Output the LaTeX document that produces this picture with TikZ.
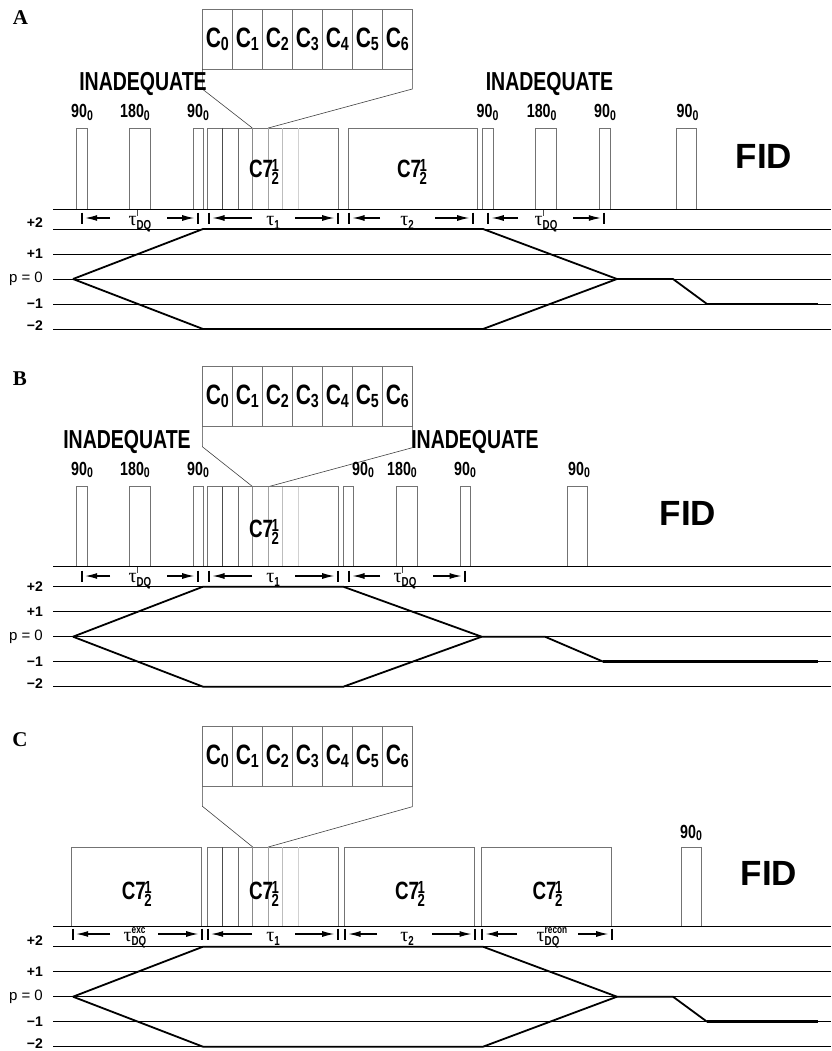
\documentclass[tikz,border=0pt]{standalone}
\usepackage{fontspec}
\setmainfont{Liberation Sans}
\newfontfamily\hv[FakeStretch=0.75]{Liberation Sans}
\newfontfamily\hvw{Liberation Sans}
\newfontfamily\tms{Liberation Serif}
\usetikzlibrary{arrows.meta}

\newcommand\fs[1]{\fontsize{#1}{#1}\selectfont}
\newcommand\Csub[1]{C\raisebox{-3pt}{\fs{19}#1}}
\newcommand\pang[2]{#1\raisebox{-2.5pt}{\fs{14}#2}}
\newcommand\Cseven{C7\kern-1.5pt\rlap{\raisebox{6pt}{\fs{17.5}1}}\raisebox{-7pt}{\fs{17.5}2}}
\newcommand\tsym{{\tms\mdseries\fs{20}τ}}
\newcommand\tone[1]{\tsym\raisebox{-4pt}{\hv\bfseries\fs{13}#1}}
\newcommand\tdqI{\tsym\rlap{\raisebox{9pt}{\hv\mdseries\fs{10}I}}\raisebox{-4pt}{\hv\bfseries\fs{13}DQ}}
\newcommand\tdqS[1]{\tsym\rlap{\raisebox{8pt}{\hv\bfseries\fs{11}#1}}\raisebox{-4.5pt}{\hv\bfseries\fs{13}DQ}}

\newcommand\pulse[5]{\node[pulse, minimum width={#3-#2}, minimum height={#5-#4}] (#1) at ({(#2+#3)/2},{(#4+#5)/2}) {};}
\newcommand\subdiv[2]{\foreach \xx/\g in {222.3/70,238.3/58,252.3/46,268.3/36,282.7/26,298.3/18} \draw[draw=black!\g, line width=0.8pt] (\xx,#1) -- (\xx,#2);}
\newcommand\interval[9]{%
 \node[tlab] (#1) at (#7,#8) {#9};
 \coordinate (#1-L) at ({#2+3.5},#6);
 \coordinate (#1-R) at ({#5-3.5},#6);
 \coordinate (#1-tl) at (#3,#6);
 \coordinate (#1-tr) at (#4,#6);
 \draw[tarr] (#1-tl) -- (#1-L);
 \draw[tarr] (#1-tr) -- (#1-R);
 \draw[tbar] (#2,{#6-5.5}) -- (#2,{#6+5.5});
 \draw[tbar] (#5,{#6-5.5}) -- (#5,{#6+5.5});
}
\newcommand\levels[3]{%
 \foreach \k in {0,...,4} \draw[lvl] (53,{#2+25*\k}) -- (831,{#2+25*\k});
 \node[llab] (#1-l2) at (43,{#2+#3}) {+2};
 \node[llab] (#1-l1) at (43,{#2+25}) {+1};
 \node[llab,font=\hvw\mdseries\fs{15}] (#1-l0) at (43,{#2+50}) {p = 0};
 \node[llab] (#1-lm1) at (43,{#2+75}) {−1};
 \node[llab] (#1-lm2) at (43,{#2+97}) {−2};
}
\newcommand\cbox[2]{% name, center y
 \foreach \i in {0,...,6} \node[cell] (#1-c\i) at ({217.3+30*\i},#2) {\Csub{\i}};
}

\begin{document}
\begin{tikzpicture}[x=1pt,y=-1pt,
 pulse/.style={draw=black!55, line width=0.8pt, inner sep=0pt, outer sep=0pt},
 cell/.style={draw=black!55, line width=0.9pt, minimum width=30pt, minimum height=60pt, inner sep=0pt, outer sep=0pt, font=\hv\bfseries\fs{28}},
 lvl/.style={line width=0.9pt},
 coh/.style={line width=1.8pt, line join=round},
 cohend/.style={line width=2.8pt},
 tarr/.style={-{Latex[length=12pt,width=6pt]}, line width=1.1pt},
 tbar/.style={line width=1.8pt},
 cone/.style={draw=black!75, line width=0.6pt},
 plab/.style={anchor=base, inner sep=0pt, font=\hv\bfseries\fs{19}},
 inad/.style={inner sep=0pt, font=\hv\bfseries\fs{26}},
 fid/.style={inner sep=0pt, font=\hvw\bfseries\fs{35}},
 c7lab/.style={anchor=base, inner sep=0pt, font=\hv\bfseries\fs{25}},
 tlab/.style={anchor=base, inner sep=0pt},
 llab/.style={anchor=east, inner sep=0pt, font=\hvw\bfseries\fs{14}},
 panel/.style={inner sep=0pt, font=\tms\bfseries\fs{21}}
]
\useasboundingbox (0,0) rectangle (831,1051);

% ================= Panel A =================
\node[panel] (A-lab) at (20.5,18) {A};
\cbox{A}{39}
\coordinate (A-kl) at (252.3,128);
\coordinate (A-kr) at (268.3,128);
\draw[cone] (A-c0.south west) -- ++(0,20) -- (A-kl);
\draw[cone] (A-c6.south east) -- ++(0,20) -- (A-kr);

\pulse{A-p1}{76.3}{87.3}{128}{209}
\pulse{A-p2}{129.3}{150.3}{128}{209}
\pulse{A-p3}{193.7}{203.7}{128}{209}
\pulse{A-blk}{207.7}{338.3}{128}{209}
\subdiv{128}{209}
\pulse{A-b2}{348.3}{477.7}{128}{209}
\pulse{A-p4}{482.3}{493.3}{128}{209}
\pulse{A-p5}{535.3}{556.7}{128}{209}
\pulse{A-p6}{599.3}{610}{128}{209}
\pulse{A-p7}{676}{696.3}{128}{209}

\node[inad] (A-i1) at (143,84) {INADEQUATE};
\node[inad] (A-i2) at (549.5,84) {INADEQUATE};
\node[plab] (A-a1) at (82,118) {\pang{90}{0}};
\node[plab] (A-a2) at (135,118) {\pang{180}{0}};
\node[plab] (A-a3) at (198,118) {\pang{90}{0}};
\node[plab] (A-a4) at (487.5,118) {\pang{90}{0}};
\node[plab] (A-a5) at (541.7,118) {\pang{180}{0}};
\node[plab] (A-a6) at (605,118) {\pang{90}{0}};
\node[plab] (A-a7) at (687.5,118) {\pang{90}{0}};
\node[c7lab] (A-s1) at (264,178) {\Cseven};
\node[c7lab] (A-s2) at (412,178) {\Cseven};
\node[fid] (A-fid) at (764,156) {FID};

\draw[lvl] (53,209) -- (831,209);
\interval{A-tdq}{81.7}{110}{167}{197.7}{218}{140}{225}{\tdqI}
\interval{A-t1}{209}{252}{295}{337.7}{218}{273}{225}{\tone{1}}
\interval{A-t2}{349}{380}{435}{472.7}{218}{407}{225}{\tone{2}}
\interval{A-tdq2}{488.3}{518}{573}{604.3}{218}{546}{225}{\tdqI}

\levels{A}{229}{-6}
\draw[coh] (73,279) -- (203,229) -- (483,229) -- (617,279) -- (673,279) -- (707,304);
\draw[coh] (73,279) -- (203,329) -- (483,329) -- (617,279);
\draw[cohend] (707,304) -- (818,304);

% ================= Panel B =================
\node[panel] (B-lab) at (20,379) {B};
\cbox{B}{396.7}
\coordinate (B-kl) at (252.7,486.7);
\coordinate (B-kr) at (268.3,486.7);
\draw[cone] (B-c0.south west) -- ++(0,20) -- (B-kl);
\draw[cone] (B-c6.south east) -- ++(0,21) -- (B-kr);

\pulse{B-p1}{76.3}{87.3}{486.7}{566}
\pulse{B-p2}{129.3}{150.3}{486.7}{566}
\pulse{B-p3}{193.7}{203.7}{486.7}{566}
\pulse{B-blk}{207.7}{338.3}{486.7}{566}
\subdiv{486.7}{566}
\pulse{B-p4}{343.3}{353.3}{486.7}{566}
\pulse{B-p5}{396.7}{417.3}{486.7}{566}
\pulse{B-p6}{460}{470.7}{486.7}{566}
\pulse{B-p7}{567.7}{587.7}{486.7}{566}

\node[inad] (B-i1) at (127,441.5) {INADEQUATE};
\node[inad] (B-i2) at (475,441.5) {INADEQUATE};
\node[plab] (B-a1) at (82,475) {\pang{90}{0}};
\node[plab] (B-a2) at (135,475) {\pang{180}{0}};
\node[plab] (B-a3) at (198,475) {\pang{90}{0}};
\node[plab] (B-a4) at (363,475) {\pang{90}{0}};
\node[plab] (B-a5) at (402,475) {\pang{180}{0}};
\node[plab] (B-a6) at (465,475) {\pang{90}{0}};
\node[plab] (B-a7) at (579,475) {\pang{90}{0}};
\node[c7lab] (B-s1) at (264,537) {\Cseven};
\node[fid] (B-fid) at (688,513) {FID};

\draw[lvl] (53,566) -- (831,566);
\interval{B-tdq}{81.7}{110}{167}{197.7}{576}{140}{582}{\tdqI}
\interval{B-t1}{209}{252}{295}{337.7}{576}{273}{582}{\tone{1}}
\interval{B-tdq2}{349}{380}{433}{465}{576}{405}{582}{\tdqI}

\levels{B}{586.7}{0}
\draw[coh] (73,636.7) -- (203,586.7) -- (343.3,586.7) -- (481.7,636.7) -- (545,636.7) -- (603.3,661.7);
\draw[coh] (73,636.7) -- (203,686.7) -- (343.3,686.7) -- (481.7,636.7);
\draw[cohend] (603.3,661.7) -- (818,661.7);

% ================= Panel C =================
\node[panel] (C-lab) at (20,740) {C};
\cbox{C}{756.7}
\coordinate (C-kl) at (252.7,847);
\coordinate (C-kr) at (268.3,847);
\draw[cone] (C-c0.south west) -- ++(0,19.5) -- (C-kl);
\draw[cone] (C-c6.south east) -- ++(0,20) -- (C-kr);

\pulse{C-b1}{71.7}{201.7}{847}{926.7}
\pulse{C-blk}{207.7}{338.3}{847}{926.7}
\subdiv{847}{926.7}
\pulse{C-b3}{344.3}{474}{847}{926.7}
\pulse{C-b4}{481.7}{611.7}{847}{926.7}
\pulse{C-p7}{681}{701}{847}{926.7}

\node[plab] (C-a7) at (691,838) {\pang{90}{0}};
\node[c7lab] (C-s1) at (136.7,899) {\Cseven};
\node[c7lab] (C-s2) at (264,899) {\Cseven};
\node[c7lab] (C-s3) at (410,899) {\Cseven};
\node[c7lab] (C-s4) at (547.5,899) {\Cseven};
\node[fid] (C-fid) at (769,873) {FID};

\draw[lvl] (53,926.7) -- (831,926.7);
\interval{C-te}{72.7}{110}{158}{201.7}{934}{135}{941}{\tdqS{exc}}
\interval{C-t1}{207.7}{252}{295}{337.7}{934}{273}{941}{\tone{1}}
\interval{C-t2}{345}{377}{432}{475}{934}{407}{941}{\tone{2}}
\interval{C-tr}{482.3}{517}{578}{611.7}{934}{548}{941}{\tdqS{recon}}

\levels{C}{946.7}{-6}
\draw[coh] (73,996.7) -- (203,946.7) -- (483,946.7) -- (617,996.7) -- (673,996.7) -- (707,1021.7);
\draw[coh] (73,996.7) -- (203,1046.7) -- (483,1046.7) -- (617,996.7);
\draw[cohend] (707,1021.7) -- (818,1021.7);
\end{tikzpicture}
\end{document}
